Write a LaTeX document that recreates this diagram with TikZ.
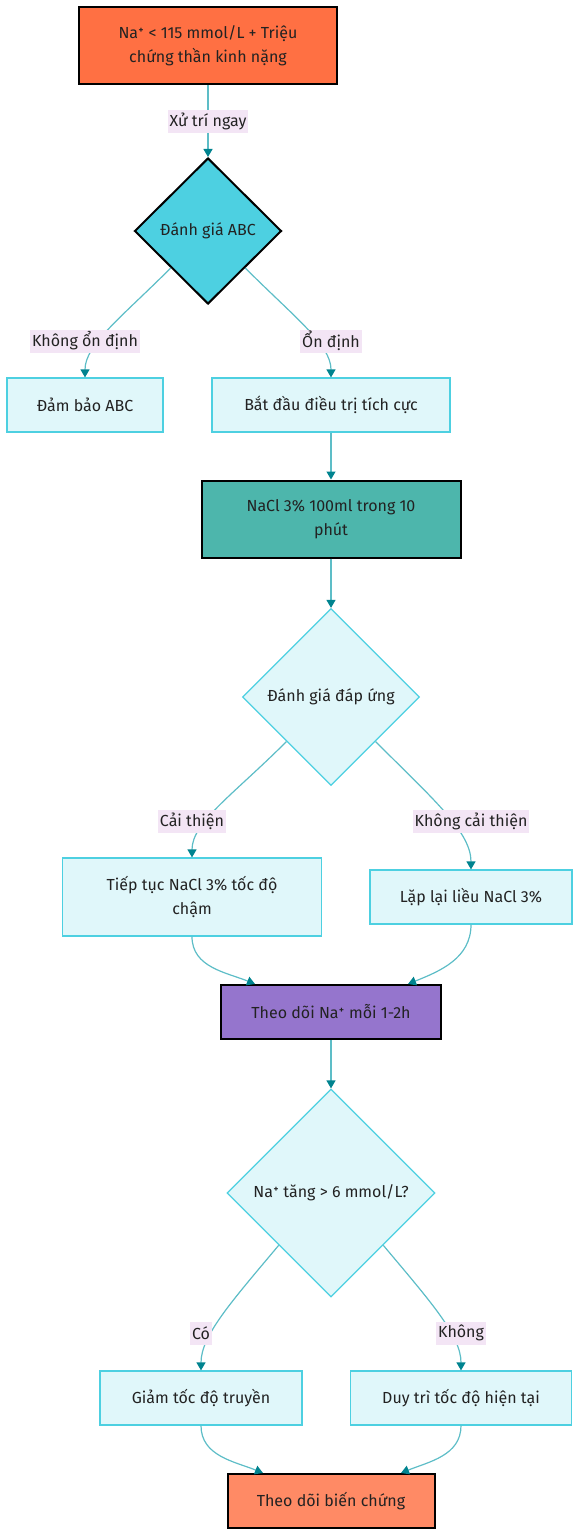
\documentclass[tikz,border=0pt]{standalone}
\usepackage{fontspec}
\setmainfont{Fira Sans}
\usetikzlibrary{shapes.geometric, arrows.meta, calc}

\definecolor{cStart}{HTML}{FF7043}
\definecolor{cEnd}{HTML}{FF8A65}
\definecolor{cCheck}{HTML}{4DD0E1}
\definecolor{cLight}{HTML}{E0F7FA}
\definecolor{cDose}{HTML}{4DB6AC}
\definecolor{cWatch}{HTML}{9575CD}
\definecolor{cEdge}{HTML}{5DBDC7}
\definecolor{cArrow}{HTML}{00838F}
\definecolor{cLabel}{HTML}{F3E5F5}
\definecolor{cText}{HTML}{222222}

\tikzset{
  every node/.style={font=\fontsize{8}{12}\selectfont, text=cText, align=center},
  keybox/.style={rectangle, draw=black, line width=1pt, inner sep=0pt},
  stepbox/.style={rectangle, draw=cCheck, fill=cLight, line width=0.6pt, inner sep=0pt},
  decision/.style={diamond, aspect=1, inner sep=0pt},
  edge/.style={draw=cEdge, line width=0.6pt, -{Triangle[length=4pt, width=4.5pt, color=cArrow]}},
  branch/.style={out looseness=1.3, in looseness=0.6},
  edgelabel/.style={fill=cLabel, inner xsep=1pt, inner ysep=0pt, minimum height=11.5pt}
}

\begin{document}
\begin{tikzpicture}[x=0.5pt, y=-0.5pt]
  \useasboundingbox (0,0) rectangle (580,1536);

  % main nodes
  \node[keybox, fill=cStart, minimum width=129pt, minimum height=38.5pt] (start) at (208,46)
    {Na⁺ < 115 mmol/L + Triệu\\chứng thần kinh nặng};
  \node[decision, draw=black, line width=1pt, fill=cCheck, minimum width=73.5pt, minimum height=73pt] (abc) at (208,231)
    {Đánh giá ABC};
  \node[stepbox, minimum width=78pt, minimum height=27pt] (secure) at (85,405) {Đảm bảo ABC};
  \node[stepbox, minimum width=119pt, minimum height=27pt] (begin) at (331,405) {Bắt đầu điều trị tích cực};
  \node[keybox, fill=cDose, minimum width=129.5pt, minimum height=38.5pt] (bolus) at (331,519)
    {NaCl 3\% 100ml trong 10\\phút};
  \node[decision, draw=cCheck, line width=0.6pt, fill=cLight, minimum width=88.5pt, minimum height=88.5pt] (resp) at (331,697)
    {Đánh giá đáp ứng};
  \node[stepbox, minimum width=129.5pt, minimum height=39pt] (slow) at (192,897)
    {Tiếp tục NaCl 3\% tốc độ\\chậm};
  \node[stepbox, minimum width=101pt, minimum height=27pt] (repeat) at (471,897) {Lặp lại liều NaCl 3\%};
  \node[keybox, fill=cWatch, minimum width=110pt, minimum height=27pt] (watch) at (331,1012) {Theo dõi Na⁺ mỗi 1-2h};
  \node[decision, draw=cCheck, line width=0.6pt, fill=cLight, minimum width=104pt, minimum height=104pt] (rise) at (331,1193)
    {Na⁺ tăng > 6 mmol/L?};
  \node[stepbox, minimum width=101pt, minimum height=27pt] (lower) at (201,1398) {Giảm tốc độ truyền};
  \node[stepbox, minimum width=110.5pt, minimum height=27pt] (keep) at (461,1398) {Duy trì tốc độ hiện tại};
  \node[keybox, fill=cEnd, minimum width=103.5pt, minimum height=27pt] (complic) at (331,1501) {Theo dõi biến chứng};

  % connectors
  \draw[edge] (start) -- node[edgelabel] {Xử trí ngay} (abc);
  \draw[edge] (abc.south west) to[out=-135, in=90, branch] (secure.north);
  \draw[edge] (abc.south east) to[out=-45, in=90, branch] (begin.north);
  \draw[edge] (begin) -- (bolus);
  \draw[edge] (bolus) -- (resp);
  \draw[edge] (resp.south west) to[out=-135, in=90, branch] (slow.north);
  \draw[edge] (resp.south east) to[out=-45, in=90, branch] (repeat.north);
  \draw[edge] (slow.south) to[out=-90, in=158] ($(watch.north)+(-76,0)$);
  \draw[edge] (repeat.south) to[out=-90, in=22] ($(watch.north)+(77,0)$);
  \draw[edge] (watch) -- (rise);
  \draw[edge] (rise.south west) to[out=-130, in=90, branch] (lower.north);
  \draw[edge] (rise.south east) to[out=-50, in=90, branch] (keep.north);
  \draw[edge] (lower.south) to[out=-90, in=158] ($(complic.north)+(-68,0)$);
  \draw[edge] (keep.south) to[out=-90, in=22] ($(complic.north)+(70,0)$);

  % edge labels
  \node[edgelabel] (lblUnstable) at (85,341) {Không ổn định};
  \node[edgelabel] (lblStable) at (331,341) {Ổn định};
  \node[edgelabel] (lblBetter) at (192,821) {Cải thiện};
  \node[edgelabel] (lblWorse) at (471,821) {Không cải thiện};
  \node[edgelabel] (lblYes) at (201,1333) {Có};
  \node[edgelabel] (lblNo) at (461,1333) {Không};
\end{tikzpicture}
\end{document}
